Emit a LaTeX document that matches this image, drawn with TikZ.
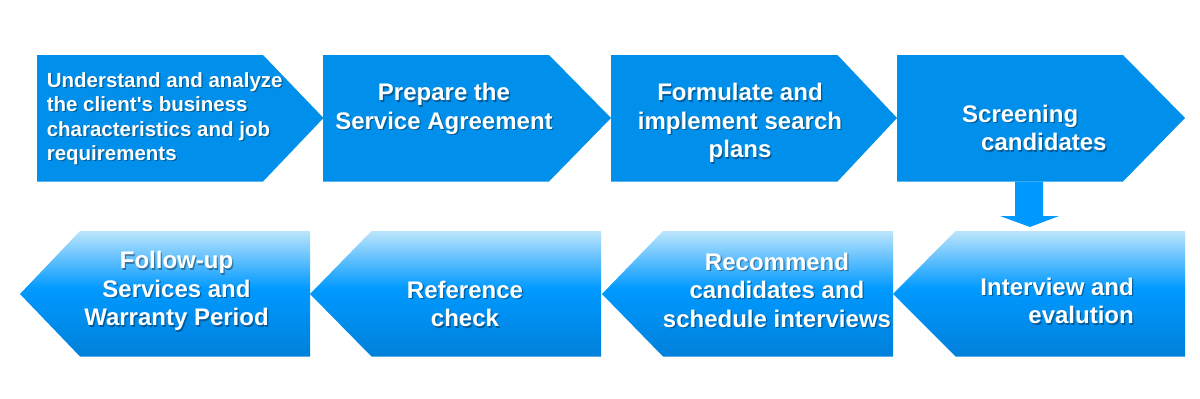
\documentclass[tikz,border=0pt]{standalone}
\usepackage{fontspec}
\setmainfont{Liberation Sans}
\usetikzlibrary{calc}
\definecolor{topc}{RGB}{0,144,236}
\definecolor{arrc}{RGB}{0,153,255}
\definecolor{gtop}{RGB}{188,229,252}
\definecolor{gmid}{RGB}{0,153,255}
\definecolor{gbot}{RGB}{0,128,218}
\pgfdeclareverticalshading{bluegrad}{100bp}{color(0bp)=(gbot); color(25bp)=(gbot); color(52bp)=(gmid); color(75bp)=(gtop); color(100bp)=(gtop)}
\tikzset{
  toprow/.style={fill=topc},
  botrow/.style={shading=bluegrad},
  txt/.style={text=white, inner sep=0pt, align=center, font=\bfseries\fontsize{24}{28.5}\selectfont},
  smalltxt/.style={font=\bfseries\fontsize{20.5}{24.5}\selectfont},
}
\newcommand{\mytxt}[4]{%
  \node[txt,#2,text=black,opacity=0.35] at ($(#3)+(1.3,1.3)$) {#4};
  \node[txt,#2] (#1) at (#3) {#4};}
\begin{document}
\begin{tikzpicture}[x=1pt,y=-1pt]
\useasboundingbox[fill=white] (0,0) rectangle (1200,399);
% top row
\path[toprow] (37,55) -- (263,55) -- (323.5,118) -- (263,181.5) -- (37,181.5) -- cycle;
\path[toprow] (323,55) -- (549,55) -- (611,118) -- (549,181.5) -- (323,181.5) -- cycle;
\path[toprow] (611,55) -- (837.5,55) -- (897,118) -- (837.5,181.5) -- (611,181.5) -- cycle;
\path[toprow] (897,55) -- (1123,55) -- (1185,118) -- (1123,181.5) -- (897,181.5) -- cycle;
% bottom row
\path[botrow] (1185,231) -- (955.5,231) -- (893,294) -- (955.5,356.5) -- (1185,356.5) -- cycle;
\path[botrow] (893,231) -- (663,231) -- (602,294) -- (663,356.5) -- (893,356.5) -- cycle;
\path[botrow] (601,231) -- (371.5,231) -- (310,294) -- (371.5,356.5) -- (601,356.5) -- cycle;
\path[botrow] (310,231) -- (80,231) -- (20,294) -- (80,356.5) -- (310,356.5) -- cycle;
% texts
\mytxt{s1}{smalltxt,anchor=west,align=left}{46.6,118.5}{Understand and analyze\\the client\textquotesingle s business\\characteristics and job\\requirements}
\mytxt{s2}{}{444,109}{Prepare the\\Service Agreement}
\mytxt{s3}{}{740,123}{Formulate and\\implement search\\plans}
\mytxt{s4}{anchor=west,align=left}{962,128}{Screening\\\hspace*{19pt}candidates}
\mytxt{b1}{anchor=east,align=right}{1134,301}{Interview and\\evalution}
\mytxt{b2}{}{777,290}{Recommend\\candidates and\\schedule interviews}
\mytxt{b3}{}{465,304}{Reference\\check}
\mytxt{b4}{}{176.5,291}{Follow-up\\Services and\\Warranty Period}
% down arrow
\coordinate (s4bot) at (1029,181.5);
\coordinate (b1top) at (1030,227);
\fill[arrc] ($(s4bot)+(-14,0)$) -- ($(s4bot)+(14,0)$) -- ($(b1top)+(13,-11)$) -- ($(b1top)+(29,-11)$) -- (b1top) -- ($(b1top)+(-30,-11)$) -- ($(b1top)+(-15,-11)$) -- cycle;
\end{tikzpicture}
\end{document}
